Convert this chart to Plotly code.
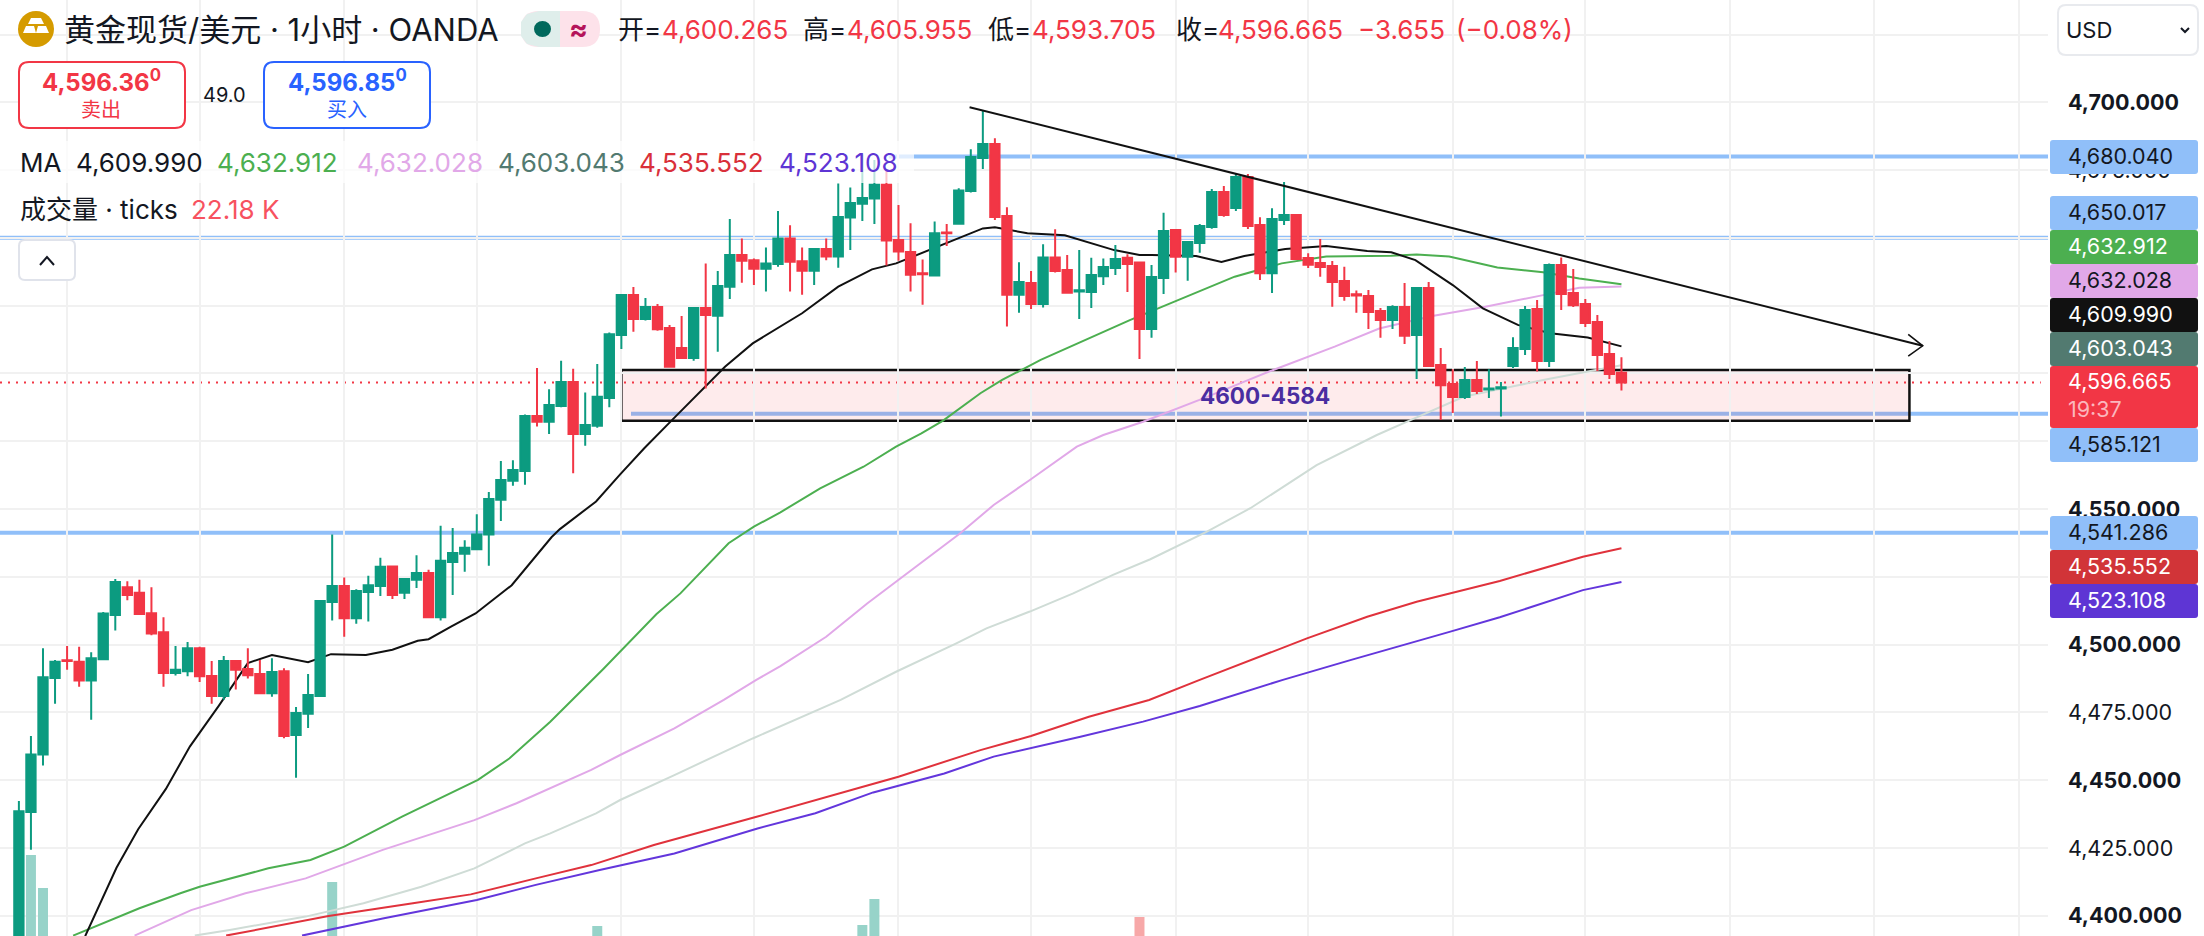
import plotly.graph_objects as go

# OHLC, one candle per hour
opens = [4385, 4438.3, 4459.5, 4487.7, 4494.2, 4493.7, 4486.8, 4494.6, 4510.9, 4521.2,
         4519.1, 4511.6, 4504.6, 4489.5, 4490.2, 4498.7, 4488.4, 4481.1, 4494, 4491,
         4489.2, 4482.1, 4490.2, 4466.7, 4474.5, 4481.1, 4515.7, 4521.6, 4509.7, 4519.4,
         4521.6, 4528.8, 4519.1, 4523.9, 4526.4, 4510.1, 4530.5, 4533.5, 4535.2, 4540.6,
         4553.4, 4560.4, 4564, 4584.3, 4582.2, 4588, 4596.9, 4577.7, 4580.7, 4591,
         4614.2, 4628.9, 4620.1, 4624.5, 4616.8, 4609.4, 4605.7, 4624.1, 4621.3, 4632,
         4643.7, 4641.8, 4638.6, 4640.4, 4649.8, 4641.4, 4637.9, 4645.9, 4643.1, 4657.5,
         4662.6, 4664.5, 4669.6, 4649.2, 4644.8, 4637, 4636.1, 4652, 4655.2, 4667.3,
         4679.5, 4684.6, 4658.1, 4629, 4633.4, 4625.6, 4642.8, 4638.2, 4630.2, 4630,
         4635.9, 4638.9, 4642.7, 4640.9, 4616.4, 4635.2, 4652.9, 4643, 4648.1, 4654,
         4666.9, 4661, 4672.5, 4654.8, 4637, 4656.6, 4658.4, 4642.6, 4640.7, 4639.6,
         4634.1, 4629.2, 4628.6, 4623, 4619.7, 4624.5, 4614.2, 4631.5, 4603.1, 4596.1,
         4591.3, 4597.6, 4594.1, 4594.5, 4602.8, 4609, 4623.8, 4604.6, 4640, 4629.7,
         4625.6, 4619, 4607.2, 4600.265]
highs = [4442.3, 4466.3, 4498.7, 4494.3, 4499.5, 4499.2, 4497.2, 4512, 4524.2, 4523.4,
         4523.9, 4521.2, 4510.1, 4499.5, 4501, 4499.2, 4494, 4495.8, 4494, 4498.7,
         4494.3, 4495, 4491.3, 4477, 4489.2, 4516.1, 4540.6, 4524.8, 4520.4, 4525.4,
         4532, 4528.8, 4524.2, 4533, 4527.6, 4543.8, 4543, 4538.5, 4548.1, 4556.3,
         4567.7, 4568, 4584.9, 4602, 4594.2, 4604.7, 4601.7, 4593, 4603.5, 4615.1,
         4628.9, 4631.9, 4627.8, 4625.6, 4617.9, 4621.2, 4624.4, 4640.6, 4637.8, 4657,
         4649.8, 4642.4, 4646.5, 4659.9, 4654.7, 4646.5, 4645.9, 4649.8, 4670.1, 4668.6,
         4680.8, 4678.7, 4675, 4662.1, 4655.4, 4642, 4656, 4655.1, 4668.3, 4682.7,
         4697, 4686.7, 4661.3, 4641, 4637.8, 4647.7, 4653.2, 4643.7, 4645.5, 4642.7,
         4642.4, 4647.4, 4644, 4640.9, 4640, 4659.3, 4653.2, 4648.5, 4655.1, 4668,
         4669.1, 4673.6, 4673.6, 4657.6, 4660.9, 4670.6, 4658.8, 4644.3, 4649.6, 4641.5,
         4639.4, 4630.6, 4630.8, 4624.1, 4625.2, 4633.4, 4631.9, 4633.7, 4609.4, 4601.6,
         4602.4, 4604.6, 4601.6, 4596.9, 4613.4, 4624.9, 4627.1, 4640.6, 4642.8, 4638.5,
         4627.5, 4621.6, 4612, 4605.955]
lows = [4380, 4424.4, 4455.4, 4478.2, 4490.7, 4484.5, 4472.3, 4494.3, 4505.2, 4516.4,
        4511.3, 4503.5, 4484.5, 4488.6, 4488.3, 4486.2, 4478.2, 4479.7, 4483.5, 4487.5,
        4482, 4480.8, 4465.5, 4450.9, 4469.3, 4480.8, 4508.9, 4502.9, 4507.7, 4508.5,
        4517.9, 4516.8, 4516.8, 4520.9, 4509.7, 4508.9, 4518.3, 4526.9, 4535.2, 4529.1,
        4545.6, 4558.6, 4559, 4580.4, 4577.7, 4587.5, 4563.2, 4573.3, 4580, 4587.5,
        4609, 4615.4, 4619.5, 4615.8, 4602.5, 4605.7, 4604.7, 4594.5, 4608, 4627.5,
        4633.5, 4632.6, 4630.2, 4639.4, 4630.2, 4629, 4632.6, 4641.8, 4639, 4645.5,
        4656.2, 4655.1, 4639.8, 4641.6, 4630.2, 4625.3, 4636.1, 4647, 4655.2, 4666.7,
        4675.4, 4656.6, 4617.3, 4622.4, 4623.8, 4624.3, 4637.2, 4629.8, 4620.1, 4624.1,
        4632.6, 4636.3, 4630, 4605.3, 4613.2, 4629.3, 4637.2, 4634.2, 4644.5, 4653.4,
        4657.8, 4659.9, 4653.3, 4634.5, 4629.7, 4654.8, 4642.2, 4638.9, 4635.7, 4624.6,
        4626.8, 4622.4, 4616.4, 4613.2, 4616.4, 4610.9, 4598, 4602.8, 4582.8, 4585.4,
        4590.6, 4592.4, 4591, 4584.1, 4602, 4606.8, 4600.7, 4602.4, 4623.4, 4624.5,
        4617.1, 4600.9, 4598, 4593.705]
closes = [4438.6, 4459.5, 4488, 4493.7, 4494, 4486.8, 4495, 4511.5, 4523.1, 4518.3,
          4511.3, 4504.1, 4489.5, 4490.7, 4498.7, 4488.3, 4481.1, 4494, 4490.7, 4488.7,
          4482.1, 4489.9, 4466.3, 4474.8, 4481.4, 4516.1, 4521.6, 4509.7, 4519.8, 4521.9,
          4528.7, 4518.3, 4524.2, 4526.4, 4510.1, 4530.9, 4533.8, 4535.7, 4540.6, 4553.7,
          4560.7, 4564.4, 4584.3, 4582.2, 4588.4, 4596.9, 4577.7, 4581, 4591.4, 4614.5,
          4628.9, 4620.1, 4624.5, 4616.3, 4602.5, 4605.7, 4624.1, 4621.6, 4632.3, 4643.7,
          4641.6, 4638.6, 4640.6, 4649.8, 4641.2, 4637.9, 4645.9, 4643.1, 4657.7, 4662.9,
          4664.7, 4669.6, 4649, 4645, 4636.4, 4636.6, 4651.7, 4651.7, 4667.5, 4679.8,
          4684.6, 4657.7, 4629, 4633.7, 4625.6, 4642.8, 4637.8, 4629.8, 4630.7, 4636.3,
          4639.3, 4642.2, 4640.4, 4616.4, 4635.6, 4652.5, 4643, 4648.5, 4654.4, 4666.9,
          4658.4, 4672.5, 4654.4, 4637, 4657, 4658.4, 4642.2, 4640.1, 4639.3, 4633.7,
          4628.6, 4628.8, 4622.7, 4619.7, 4624.5, 4613.9, 4631.5, 4602.8, 4595.7, 4591.3,
          4597.6, 4593.5, 4594.5, 4594.9, 4609.4, 4623.4, 4604.6, 4640, 4629.3, 4625.2,
          4618.6, 4606.8, 4599.8, 4596.665]
candle_idx = list(range(len(opens)))

# moving averages, read at the bends of each line
ma_black_x = [5.5, 8.1, 9.9, 12.2, 14.2, 16.6, 19, 21, 24, 25.9, 28.8, 31, 33.1, 34, 35.9, 37.9, 40.9,
              44.2, 44.9, 47.9, 49.9, 51.9, 54.2, 57, 58.6, 60.9, 65, 68, 70.8, 72.8, 76.3, 80, 81,
              83.7, 86.8, 90.9, 93, 94, 97.7, 99.8, 101.7, 105.1, 108.5, 111.9, 113.9, 115.9, 119,
              121.5, 124.4, 127.1, 130.2, 133]
ma_black_y = [4392.5, 4417.7, 4431.9, 4446.8, 4462.5, 4477.5, 4493.2, 4496.2, 4493.5, 4496.5, 4496.2,
              4498.1, 4501.4, 4502, 4506.7, 4511.5, 4521.9, 4539.6, 4542.6, 4552.8, 4562.8, 4572.4,
              4582.8, 4595.1, 4602.5, 4611.1, 4622.2, 4632, 4638.4, 4640.6, 4646.8, 4653.5, 4653.9,
              4651.7, 4651, 4645.5, 4643.7, 4643.7, 4643.3, 4641.1, 4643.3, 4645.9, 4647, 4645.2,
              4644.7, 4641.8, 4632.6, 4624, 4617.9, 4614.8, 4613.3, 4609.99]
ma_green_x = [4.5, 10, 13.4, 15, 20.7, 24.2, 27, 31.8, 38.1, 40.7, 44.1, 48.5, 52.9, 54.9, 58.9, 61, 63.2,
              66.5, 70.1, 72.8, 74.9, 76.7, 79.8, 81.6, 84.8, 92.2, 100.9, 104.8, 108.5, 113.9, 116,
              118.7, 122.7, 126.5, 129.5, 133]
ma_green_y = [4392.7, 4402.8, 4408.3, 4410.7, 4417.5, 4420.6, 4425.5, 4436.6, 4450.1, 4458, 4471.6, 4491,
              4511.2, 4518.9, 4537.4, 4543.5, 4548.8, 4557.6, 4565.6, 4573, 4577.9, 4582.6, 4592.7,
              4597.6, 4605, 4619.7, 4635.7, 4640.6, 4643.1, 4643.4, 4643.9, 4643.1, 4639.1, 4637.3,
              4635, 4632.9]
ma_pink_x = [9.6, 14.3, 18.8, 23.8, 30.2, 37.8, 41.3, 44.1, 47.5, 49.9, 54.4, 58.5, 61.2, 63.2, 67, 70.4,
             74.2, 78.1, 80.9, 83.9, 87.8, 90, 93.3, 96.4, 98.3, 101.7, 104.1, 109.2, 112.9, 117.3,
             121.7, 126.5, 129.5, 133]
ma_pink_y = [4392.7, 4402.1, 4408.3, 4413.8, 4424.3, 4435.3, 4441.5, 4447, 4453.8, 4459.3, 4469.1, 4479.6,
             4487, 4492.1, 4502.9, 4515.2, 4528.1, 4541, 4551.5, 4560.7, 4573, 4577.3, 4582.2, 4587.5,
             4590.8, 4597, 4601.3, 4609.9, 4616.6, 4621.2, 4624.6, 4628.9, 4631.6, 4632.03]
ma_gray_x = [14.6, 17.5, 23.8, 28.6, 33.4, 37.8, 42, 44.1, 47.9, 49.9, 54.4, 60.9, 68.2, 71.5, 72.8, 77.8,
             80.3, 83.9, 87.5, 90.8, 93.9, 98.6, 102.2, 107.7, 112.7, 115.4, 117.7, 119.9, 123.2, 126.5,
             130.2, 133]
ma_gray_y = [4392.7, 4394.8, 4399.7, 4404.6, 4410.7, 4417.5, 4426.7, 4430.4, 4437.8, 4442.7, 4451.9, 4465.4,
             4479.6, 4487, 4490, 4500.5, 4506, 4512.2, 4518.9, 4525.7, 4531.5, 4541.7, 4550.3, 4566.2,
             4577.3, 4582.6, 4587.1, 4591.4, 4594.5, 4597.6, 4600.7, 4603.04]
ma_red_x = [17.2, 25.7, 32.7, 37.5, 42.9, 47.5, 52.7, 61.3, 69.9, 73, 79.8, 84, 88.8, 93.8, 98, 102.2,
            106.9, 111.9, 116, 122.9, 129.8, 133]
ma_red_y = [4392.7, 4399.9, 4404.6, 4407.9, 4413.8, 4418.7, 4426.1, 4436.6, 4447.4, 4451.3, 4461.1, 4466.3,
            4473.4, 4479.6, 4487, 4494.3, 4502.3, 4510.3, 4515.8, 4523.5, 4532.4, 4535.55]
ma_purple_x = [23.5, 30.2, 38, 42.9, 48.2, 54.4, 61.3, 66.1, 70.9, 76.8, 80.9, 88.1, 93.3, 98, 104.9, 110.5,
               118.8, 122.9, 129.8, 133]
ma_purple_y = [4392.7, 4399, 4405.8, 4411.4, 4416.9, 4423, 4432.2, 4437.8, 4445.5, 4452.5, 4458.7, 4466,
               4471.6, 4477.4, 4487, 4494.3, 4504.8, 4510.1, 4520.1, 4523.11]

# only the volume bars tall enough to reach the bottom of the picture, in K ticks
vol_idx = [1, 2, 26, 48, 70, 71, 93]
vol_vals = [141, 108, 114, 70, 71, 97, 79]
vol_colors = ['#97d3c9', '#97d3c9', '#97d3c9', '#97d3c9', '#97d3c9', '#97d3c9', '#f7a8a8']

# price scale: gridlines every 25, labels only where the tags leave room
price_range = [4392.55, 4737.73]
grid_prices = [4400, 4425, 4450, 4475, 4500, 4525, 4550, 4575, 4600, 4625, 4650, 4675, 4700, 4725]
tick_prices = [4400, 4425, 4450, 4475, 4500, 4550, 4675, 4700]
tick_labels = ['<b>4,400.000</b>', '4,425.000', '<b>4,450.000</b>', '4,475.000', '<b>4,500.000</b>',
               '<b>4,550.000</b>', '4,675.000', '<b>4,700.000</b>']
grid_idx = [4, 15, 27, 38, 50, 61, 73, 84, 96, 107, 119, 130, 142, 154, 166]

# drawings on the chart
level_prices = [4680.04, 4650.017, 4585.121, 4541.286]
level_starts = [72.2, -2, 50.8, -2]
last_price = 4596.665
zone_x = [50, 156.9]
zone_y = [4582.6, 4601.3]
trend_x = [78.9, 158]
trend_y = [4698.2, 4610.2]
arrow_x = [156.8, 158, 156.8]
arrow_y = [4614.4, 4610.2, 4606.4]

# price tags on the right: value, top, bottom, fill, text colour
tag_values = ['4,680.040', '4,650.017', '4,632.912', '4,632.028', '4,609.990', '4,603.043', '4,596.665',
              '4,585.121', '4,541.286', '4,535.552', '4,523.108']
tag_tops = [140, 196, 230, 264, 298, 332, 366, 428, 516, 550, 584]
tag_bottoms = [174, 230, 264, 298, 332, 366, 428, 462, 550, 584, 618]
tag_fills = ['#90bff9', '#90bff9', '#4caf50', '#e1a8e8', '#111111', '#527a70', '#f23645', '#90bff9',
             '#90bff9', '#d13438', '#5e35d4']
tag_fonts = ['#131722', '#131722', '#ffffff', '#131722', '#ffffff', '#ffffff', '#ffffff', '#131722',
             '#131722', '#ffffff', '#ffffff']

WIDTH, HEIGHT = 2204, 936
PLOT_RIGHT = 2048
FONT = 'Inter, "Noto Sans CJK SC", sans-serif'
GREEN = '#0c9b80'
RED = '#f23645'
DARK = '#131722'
x_range = [-1.568, 168.4]


def px(x):
    return x / WIDTH


def py(y):
    return 1 - y / HEIGHT


def round_box(x0, y0, x1, y1, r=10):
    # rounded rectangle in screen pixels, as a path in paper coordinates
    p = lambda x, y: f'{px(x):.5f},{py(y):.5f}'
    return (f'M{p(x0 + r, y0)} L{p(x1 - r, y0)} Q{p(x1, y0)} {p(x1, y0 + r)} L{p(x1, y1 - r)} '
            f'Q{p(x1, y1)} {p(x1 - r, y1)} L{p(x0 + r, y1)} Q{p(x0, y1)} {p(x0, y1 - r)} '
            f'L{p(x0, y0 + r)} Q{p(x0, y0)} {p(x0 + r, y0)} Z')


def poly(points, closed=True):
    s = 'M' + ' L'.join(f'{px(x):.5f},{py(y):.5f}' for x, y in points)
    return s + (' Z' if closed else '')


annotations = []
shapes = []


def label(x, y, text, color=DARK, size=26, anchor='left'):
    annotations.append(dict(xref='paper', yref='paper', x=px(x), y=py(y), text=text, showarrow=False,
                            xanchor=anchor, yanchor='middle', borderpad=0,
                            font=dict(family=FONT, size=size, color=color)))


def paper_shape(path, fill='rgba(0,0,0,0)', line='rgba(0,0,0,0)', width=0):
    shapes.append(dict(type='path', xref='paper', yref='paper', path=path, fillcolor=fill,
                       line=dict(color=line, width=width), layer='above'))


fig = go.Figure()

fig.add_trace(go.Bar(x=vol_idx, y=vol_vals, marker=dict(color=vol_colors, line=dict(width=0)),
                     width=0.83, yaxis='y', showlegend=False))

for xs, ys, color in [(ma_gray_x, ma_gray_y, '#cfdcd6'), (ma_red_x, ma_red_y, '#e0323c'),
                      (ma_purple_x, ma_purple_y, '#6336dc'), (ma_pink_x, ma_pink_y, '#e1a8e8'),
                      (ma_green_x, ma_green_y, '#4caf50'), (ma_black_x, ma_black_y, '#111111')]:
    fig.add_trace(go.Scatter(x=xs, y=ys, mode='lines', yaxis='y2', showlegend=False,
                             line=dict(color=color, width=2)))

fig.add_trace(go.Candlestick(
    x=candle_idx, open=opens, high=highs, low=lows, close=closes, yaxis='y3', showlegend=False,
    increasing=dict(line=dict(color=GREEN, width=2), fillcolor=GREEN),
    decreasing=dict(line=dict(color=RED, width=2), fillcolor=RED),
    whiskerwidth=0
))

# trend line with open arrow head
fig.add_trace(go.Scatter(x=trend_x, y=trend_y, mode='lines', yaxis='y3', showlegend=False,
                         line=dict(color='#111111', width=2)))
fig.add_trace(go.Scatter(x=arrow_x, y=arrow_y, mode='lines', yaxis='y3', showlegend=False,
                         line=dict(color='#111111', width=1.6)))

# levels and the support zone stay under the candles
for price, start in zip(level_prices, level_starts):
    shapes.append(dict(type='line', xref='x', yref='y2', x0=start, x1=x_range[1], y0=price, y1=price,
                       line=dict(color='#90bff9', width=4), layer='below'))
shapes.append(dict(type='rect', xref='x', yref='y2', x0=zone_x[0], x1=zone_x[1], y0=zone_y[0], y1=zone_y[1],
                   fillcolor='rgba(242,54,69,0.1)', line=dict(color='#111111', width=2.5), layer='below'))
shapes.append(dict(type='line', xref='x', yref='y2', x0=x_range[0], x1=167.8, y0=last_price, y1=last_price,
                   line=dict(color=RED, width=2, dash='2px,6px'), layer='below'))

annotations.append(dict(xref='x', yref='y2', x=103.4, y=4591.8, text='<b>4600-4584</b>', showarrow=False,
                        font=dict(family=FONT, size=22.5, color='#4a2da0')))

# white veil behind the MA legend row
shapes.append(dict(type='rect', xref='paper', yref='paper', x0=0, x1=px(914), y0=py(183), y1=py(141),
                   fillcolor='rgba(255,255,255,0.72)', line=dict(width=0), layer='above'))

# header: gold icon
shapes.append(dict(type='circle', xref='paper', yref='paper', x0=px(18), x1=px(54), y0=py(47), y1=py(11),
                   fillcolor='#d59b00', line=dict(width=0), layer='above'))
paper_shape(poly([(31, 18), (41, 18), (44, 24), (28, 24)]), fill='#ffffff')
paper_shape(poly([(26, 26), (34, 26), (36, 33), (23, 33)]), fill='#ffffff')
paper_shape(poly([(38, 26), (46, 26), (49, 33), (36, 33)]), fill='#ffffff')
label(63, 29, '黄金现货/美元 · 1小时 · OANDA', size=31)

# status pill
paper_shape(round_box(521, 11, 600, 47, 18), fill='#fde2ea')
paper_shape(poly([(560, 11), (539, 11), (527, 14), (521, 22), (521, 36), (527, 44), (539, 47), (560, 47)]),
            fill='#dfeeeb')
shapes.append(dict(type='circle', xref='paper', yref='paper', x0=px(534), x1=px(551), y0=py(37), y1=py(21),
                   fillcolor='#00695c', line=dict(width=0), layer='above'))
label(578, 29, '<b>≈</b>', color='#b5135a', size=28, anchor='center')

# OHLC row
ohlc_labels = ['开=', '高=', '低=', '收=']
ohlc_label_x = [617, 802, 987, 1175]
ohlc_values = ['4,600.265', '4,605.955', '4,593.705', '4,596.665']
ohlc_value_x = [661, 846, 1031, 1217]
for t, x in zip(ohlc_labels, ohlc_label_x):
    label(x, 29, t)
for t, x in zip(ohlc_values, ohlc_value_x):
    label(x, 29, t, color=RED)
label(1357, 29, '−3.655', color=RED)
label(1455, 29, '(−0.08%)', color=RED)

# sell / buy boxes
paper_shape(round_box(19, 62, 185, 128), fill='#ffffff', line=RED, width=2)
paper_shape(round_box(264, 62, 430, 128), fill='#ffffff', line='#2962ff', width=2)
label(101, 81, '<b>4,596.36<sup>0</sup></b>', color=RED, size=24, anchor='center')
label(101, 110, '卖出', color=RED, size=20, anchor='center')
label(224, 95, '49.0', size=20, anchor='center')
label(347, 81, '<b>4,596.85<sup>0</sup></b>', color='#2962ff', size=24, anchor='center')
label(347, 110, '买入', color='#2962ff', size=20, anchor='center')

# MA legend row
ma_values = ['4,609.990', '4,632.912', '4,632.028', '4,603.043', '4,535.552', '4,523.108']
ma_value_x = [75, 216, 356, 497, 638, 778]
ma_value_colors = ['#131722', '#4caf50', '#e1a8e8', '#527a70', '#d9303a', '#5e35d4']
label(19, 162, 'MA')
for t, x, c in zip(ma_values, ma_value_x, ma_value_colors):
    label(x, 162, t, color=c)

# volume legend row and collapse button
label(19, 210, '成交量 · ticks')
label(190, 210, '22.18 K', color='#f7525f')
paper_shape(round_box(19, 240, 75, 280, 6), fill='#ffffff', line='#e0e3eb', width=2)
paper_shape(poly([(40, 265), (47, 257), (54, 265)], closed=False), line='#131722', width=2)

# currency box
paper_shape(round_box(2058, 5, 2198, 55, 8), fill='#ffffff', line='#e8eaee', width=2)
label(2065, 30, 'USD', size=22)
paper_shape(poly([(2181, 28), (2185, 32), (2189, 28)], closed=False), line='#131722', width=2)

# price tags
for value, top, bottom, fill, color in zip(tag_values, tag_tops, tag_bottoms, tag_fills, tag_fonts):
    paper_shape(round_box(2050, top, 2198, bottom, 3), fill=fill)
    if value == '4,596.665':
        label(2067, top + 15, value, color=color, size=21.5)
        label(2067, top + 43, '19:37', color='#fbb7bd', size=21.5)
    else:
        label(2067, (top + bottom) / 2 - 1, value, color=color, size=21.5)

price_axis = dict(range=price_range, domain=[0, 1], showline=False, zeroline=False)

fig.update_layout(
    width=WIDTH,
    height=HEIGHT,
    margin=dict(l=0, r=0, t=0, b=0),
    paper_bgcolor='white',
    plot_bgcolor='white',
    showlegend=False,
    boxgap=0.12,
    boxgroupgap=0.12,
    hovermode=False,
    xaxis=dict(range=x_range, domain=[0, PLOT_RIGHT / WIDTH], showgrid=True, gridcolor='#f1f1f1', gridwidth=2,
               tickmode='array', tickvals=grid_idx, showticklabels=False, ticks='', zeroline=False,
               showline=False, rangeslider=dict(visible=False)),
    yaxis=dict(range=[60, 996], visible=False, showgrid=False, zeroline=False),
    yaxis2=dict(price_axis, overlaying='y', side='right', anchor='x', showgrid=False,
                tickmode='array', tickvals=tick_prices, ticktext=tick_labels, ticks='',
                ticklabelstandoff=19, tickfont=dict(family=FONT, size=21.5, color=DARK)),
    yaxis3=dict(price_axis, overlaying='y', side='right', anchor='x', showgrid=True, gridcolor='#f1f1f1',
                gridwidth=2, tickmode='array', tickvals=grid_prices, showticklabels=False, ticks=''),
    shapes=shapes,
    annotations=annotations,
    font=dict(family=FONT)
)

fig.write_html("out.html", config={'displayModeBar': False}, post_script="document.body.style.margin='0';")
